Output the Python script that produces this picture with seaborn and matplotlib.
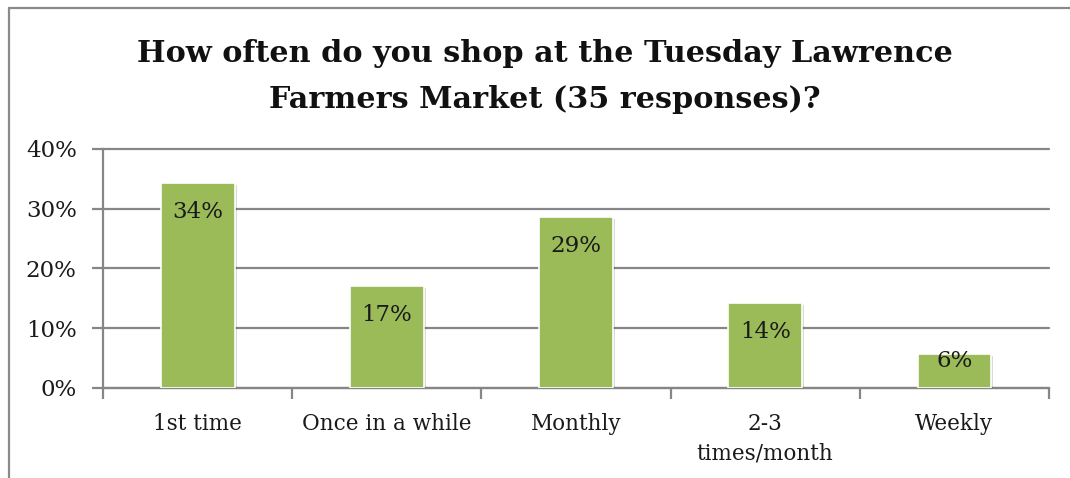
import matplotlib
matplotlib.use("Agg")
import matplotlib.pyplot as plt
import matplotlib.patheffects as pe
import seaborn as sns
import pandas as pd
from matplotlib.ticker import FuncFormatter, MultipleLocator

categories = ["1st time", "Once in a while", "Monthly", "2-3\ntimes/month", "Weekly"]
values = [34.3, 17.1, 28.6, 14.3, 5.7]
labels = ["34%", "17%", "29%", "14%", "6%"]
title = "How often do you shop at the Tuesday Lawrence\nFarmers Market (35 responses)?"

sns.set_theme(style="white")
plt.rcParams['font.family'] = ['DejaVu Serif']

df = pd.DataFrame({"cat": categories, "val": values})

fig = plt.figure(figsize=(10.7, 4.78), dpi=100)
ax = fig.add_axes([0.0963, 0.1883, 0.8841, 0.5])

grid_c = "#868686"
sns.barplot(data=df, x="cat", y="val", color="#9BBB59", saturation=1,
            width=0.39, ax=ax, edgecolor="white", linewidth=1.2, zorder=3)

for p in ax.patches:
    p.set_path_effects([pe.SimplePatchShadow(offset=(1.5, -1.5), shadow_rgbFace="#000000", alpha=0.15),
                        pe.Normal()])

ax.set_ylim(0, 40)
ax.set_xlim(-0.5, len(categories) - 0.5)
ax.yaxis.set_major_locator(MultipleLocator(10))
ax.yaxis.set_major_formatter(FuncFormatter(lambda v, p: f"{int(v)}%"))
ax.grid(axis="y", color=grid_c, linewidth=1.6, zorder=0)
for gl in ax.get_ygridlines():
    gl.set_clip_on(False)
ax.set_axisbelow(True)
ax.set_xlabel("")
ax.set_ylabel("")

for s in ["top", "right"]:
    ax.spines[s].set_visible(False)
for s in ["left", "bottom"]:
    ax.spines[s].set_color(grid_c)
    ax.spines[s].set_linewidth(1.6)

ax.tick_params(axis="y", left=True, length=8, width=1.6, color=grid_c,
               labelsize=16.5, labelcolor="#1a1a1a", pad=11)
ax.tick_params(axis="x", bottom=False, labelsize=15.5, labelcolor="#1a1a1a", pad=12)
for t in ax.get_xticklabels():
    t.set_linespacing(1.45)
ax.set_xticks([i - 0.5 for i in range(len(categories) + 1)], minor=True)
ax.tick_params(axis="x", which="minor", bottom=True, length=8, width=1.6, color=grid_c)

px_per_unit = (0.5 * 478) / 40.0
for i, (v, lab) in enumerate(zip(values, labels)):
    bar_px = v * px_per_unit
    off_px = 29 if bar_px > 60 else 7
    ax.annotate(lab, xy=(i, v), xytext=(0, -off_px * 72 / 100), textcoords="offset points",
                ha="center", va="center", fontsize=16.5, color="#1a1a1a", zorder=5)

fig.text(0.509, 0.84, title, ha="center", va="center", fontsize=21.8,
         fontweight="bold", color="#111111", linespacing=1.7)

# outer chart border (top and left visible)
fig.add_artist(plt.Line2D([9/1070, 1.0], [1 - 8/478, 1 - 8/478],
                          transform=fig.transFigure, color="#8a8a8a", linewidth=1.6))
fig.add_artist(plt.Line2D([9/1070, 9/1070], [0, 1 - 8/478],
                          transform=fig.transFigure, color="#8a8a8a", linewidth=1.6))

fig.savefig("out.png", dpi=100)
